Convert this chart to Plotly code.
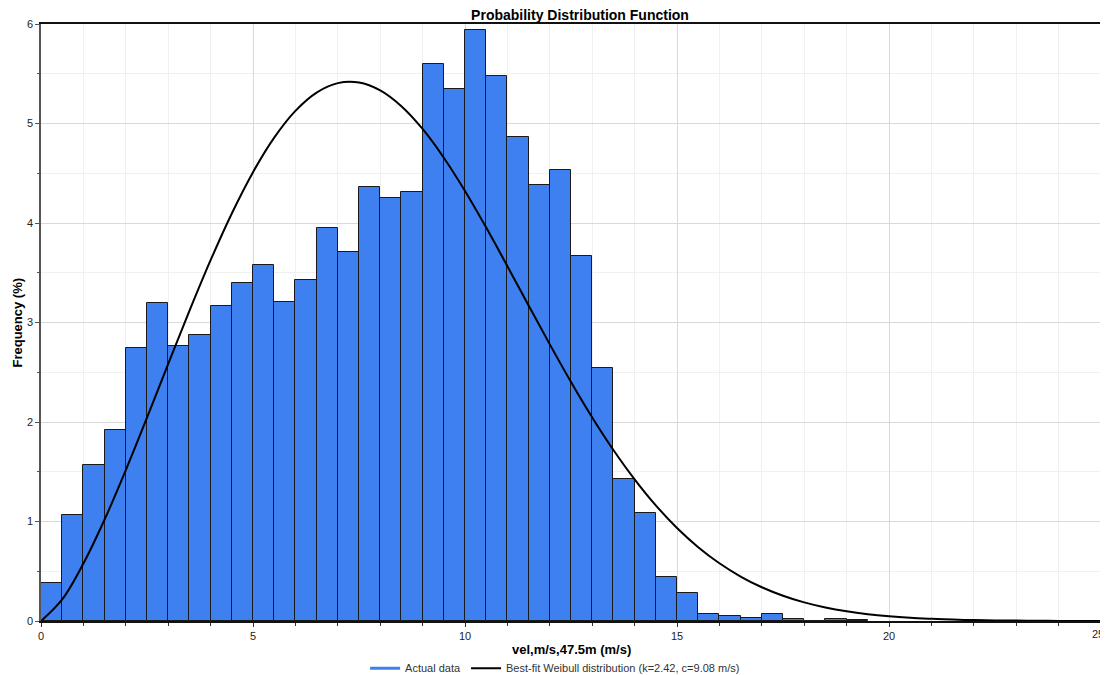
import plotly.graph_objects as go

# histogram bins (left edges, m/s) and frequency (%)
bin_left = [0, 0.5, 1, 1.5, 2, 2.5, 3, 3.5, 4, 4.5, 5, 5.5, 6, 6.5, 7, 7.5, 8, 8.5, 9, 9.5,
            10, 10.5, 11, 11.5, 12, 12.5, 13, 13.5, 14, 14.5, 15, 15.5, 16, 16.5, 17, 17.5,
            18, 18.5, 19]
freq = [0.38, 1.07, 1.57, 1.92, 2.74, 3.20, 2.76, 2.87, 3.17, 3.40, 3.58, 3.21, 3.43, 3.95,
        3.71, 4.36, 4.25, 4.31, 5.60, 5.35, 5.94, 5.48, 4.86, 4.38, 4.53, 3.67, 2.54, 1.43,
        1.09, 0.44, 0.28, 0.07, 0.05, 0.03, 0.07, 0.02, 0.0, 0.02, 0.01]
bin_width = 0.5

# best-fit Weibull curve
curve_x = [0, 0.5, 1, 1.5, 2, 2.5, 3, 3.5, 4, 4.5, 5, 5.5, 6, 6.5, 7, 7.5, 8, 8.5, 9, 9.5,
           10, 10.5, 11, 11.5, 12, 12.5, 13, 13.5, 14, 14.5, 15, 15.5, 16, 16.5, 17, 17.5,
           18, 18.5, 19, 19.5, 20, 20.5, 21, 21.5, 22, 22.5, 23, 23.5, 24, 24.5, 25]
curve_y = [0, 0.217, 0.578, 1.020, 1.516, 2.043, 2.583, 3.116, 3.626, 4.096, 4.511, 4.858,
           5.127, 5.311, 5.406, 5.412, 5.333, 5.174, 4.945, 4.656, 4.322, 3.954, 3.566, 3.171,
           2.780, 2.402, 2.046, 1.719, 1.424, 1.162, 0.935, 0.742, 0.580, 0.447, 0.339, 0.254,
           0.187, 0.136, 0.097, 0.068, 0.047, 0.032, 0.022, 0.014, 0.009, 0.006, 0.004, 0.002,
           0.001, 0.001, 0.0005]

x_ticks = [0, 5, 10, 15, 20, 25]
y_ticks = [0, 1, 2, 3, 4, 5, 6]

BLUE = "#3f80f0"
FONT = "Arial, Liberation Sans, sans-serif"

# page body adds an 8px margin, so the figure is 8px smaller than the window
W, H = 1100, 667

fig = go.Figure()
fig.add_trace(go.Bar(
    x=[b + bin_width / 2 for b in bin_left], y=freq, width=bin_width,
    marker=dict(color=BLUE, line=dict(color="#1a1a1a", width=1)),
    showlegend=False, name="Actual data",
))
# legend entry shown as a line, like the original
fig.add_trace(go.Scatter(x=[None], y=[None], mode="lines", name="Actual data",
                         line=dict(color=BLUE, width=3)))
fig.add_trace(go.Scatter(
    x=curve_x, y=curve_y, mode="lines", line=dict(color="black", width=2, shape="spline"),
    name="Best-fit Weibull distribution (k=2.42, c=9.08 m/s)",
))

# last x label sits at the very edge; draw it right-aligned so it is not clipped
tick_text = [str(t) for t in x_ticks[:-1]] + [""]

fig.update_layout(
    width=W, height=H,
    margin=dict(l=33, r=7, t=16, b=54, autoexpand=False),
    plot_bgcolor="white", paper_bgcolor="white",
    font=dict(family=FONT, size=11, color="#222"),
    bargap=0,
    title=dict(text="<b>Probability Distribution Function</b>", x=0.52, xanchor="center",
               y=1 - 7 / H, yanchor="middle", yref="container",
               font=dict(size=14, color="black")),
    legend=dict(orientation="h", x=0.485, xanchor="center", y=-0.079, yanchor="middle",
                font=dict(size=11, color="#333"), itemwidth=30, bgcolor="rgba(0,0,0,0)"),
    xaxis=dict(range=[0, 25], tickvals=x_ticks, ticktext=tick_text, showgrid=True,
               gridcolor="#d9d9d9",
               minor=dict(dtick=1, showgrid=True, gridcolor="#f0f0f0", ticks="outside",
                          ticklen=3, tickcolor="#333"),
               ticks="outside", ticklen=4, tickcolor="#333",
               showline=True, linecolor="#111", linewidth=2, mirror=True, zeroline=False),
    yaxis=dict(range=[0, 6], tickvals=y_ticks, showgrid=True, gridcolor="#d9d9d9",
               minor=dict(dtick=0.5, showgrid=True, gridcolor="#f0f0f0", ticks="outside",
                          ticklen=2, tickcolor="#555"),
               ticks="outside", ticklen=4, tickcolor="#555",
               showline=True, linecolor="#555", linewidth=1.5, mirror=True, zeroline=False),
    annotations=[
        dict(text=str(x_ticks[-1]), xref="x", yref="paper", x=x_ticks[-1], y=0,
             xanchor="right", yanchor="top", xshift=5, yshift=-5, showarrow=False,
             font=dict(size=11, color="#222")),
        dict(text="<b>vel,m/s,47.5m (m/s)</b>", xref="paper", yref="paper", x=0.5, y=-0.047,
             showarrow=False, font=dict(size=13, color="black"), yanchor="middle"),
        dict(text="<b>Frequency (%)</b>", xref="paper", yref="paper", x=-0.0217, y=0.5,
             showarrow=False, textangle=-90, font=dict(size=13, color="black"),
             xanchor="center", yanchor="middle"),
    ],
)

fig.write_html("out.html")
